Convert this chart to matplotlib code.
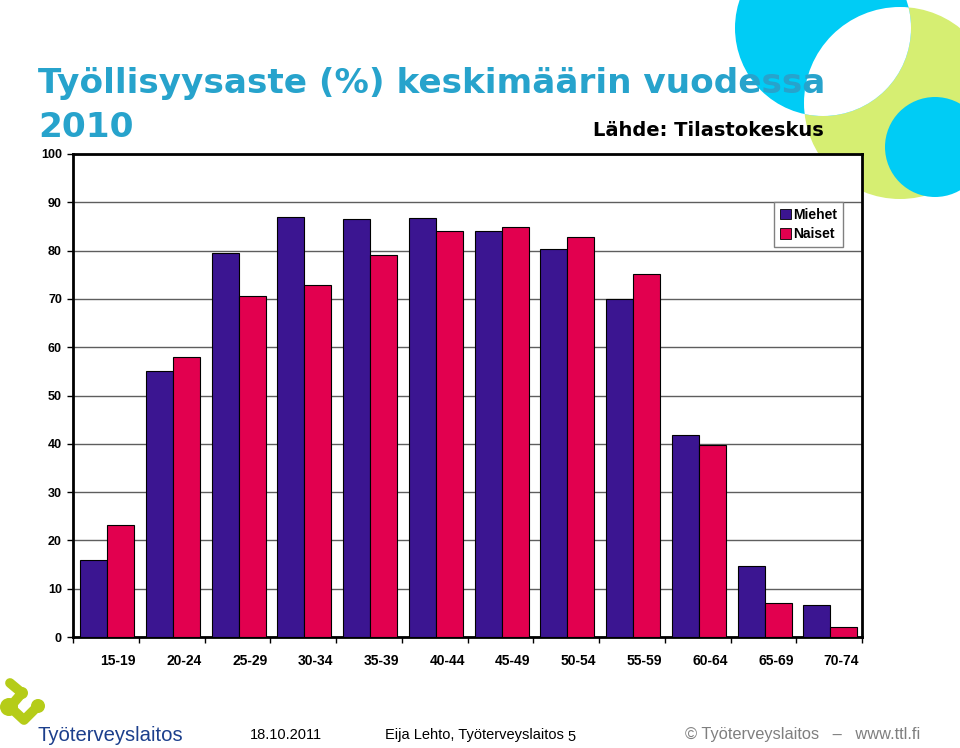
import numpy as np
import matplotlib
matplotlib.use('Agg')
import matplotlib.pyplot as plt
from matplotlib.patches import Circle, Patch

ages = ['15-19', '20-24', '25-29', '30-34', '35-39', '40-44',
        '45-49', '50-54', '55-59', '60-64', '65-69', '70-74']
miehet = [16.0, 55.0, 79.5, 86.9, 86.5, 86.7, 84.0, 80.3, 69.9, 41.9, 14.7, 6.6]
naiset = [23.2, 57.9, 70.7, 72.8, 79.0, 84.0, 84.9, 82.8, 75.1, 39.8, 7.1, 2.1]
yticks = [0, 10, 20, 30, 40, 50, 60, 70, 80, 90, 100]

c_men = '#3b1591'
c_women = '#e2004f'
c_title = '#27a3cc'
c_cyan = '#00ccf5'
c_green = '#d6ee72'
c_logo = '#b5cc18'

W, H = 960, 748
fig = plt.figure(figsize=(W / 100, H / 100), dpi=100)

# background layer in pixel coordinates (decoration, title, footer)
bg = fig.add_axes([0, 0, 1, 1], zorder=0)
bg.set_xlim(0, W)
bg.set_ylim(H, 0)
bg.axis('off')

green = Circle((900, 103), 96, color=c_green, lw=0)
bg.add_patch(green)
big = Circle((823, 28), 88, color=c_cyan, lw=0)
bg.add_patch(big)
lens = Circle((900, 103), 96, color='white', lw=0)
bg.add_patch(lens)
lens.set_clip_path(big)
bg.add_patch(Circle((935, 147), 50, color=c_cyan, lw=0))

bg.text(38, 93, 'Työllisyysaste (%) keskimäärin vuodessa', color=c_title,
        fontsize=24.7, fontweight='bold', family='DejaVu Sans', va='baseline')
bg.text(38, 137, '2010', color=c_title, fontsize=24.7, fontweight='bold',
        family='DejaVu Sans', va='baseline')
bg.text(593, 130, 'Lähde: Tilastokeskus', color='black', fontsize=14,
        fontweight='bold', family='DejaVu Sans', va='center')

# logo
bg.plot([10, 22, 10, 24, 38], [683, 693, 707, 720, 706], color=c_logo,
        lw=7, solid_capstyle='round', solid_joinstyle='round')
bg.add_patch(Circle((9, 707), 9, color=c_logo, lw=0))
bg.add_patch(Circle((38, 706), 7, color=c_logo, lw=0))
bg.add_patch(Circle((22, 693), 6, color=c_logo, lw=0))
bg.add_patch(Circle((10, 683), 3.5, color=c_logo, lw=0))
bg.text(37, 741, 'Työterveyslaitos', color='#1c3f8c', fontsize=14.6,
        family='Liberation Sans', va='baseline')

bg.text(250, 735, '18.10.2011', fontsize=10.5, family='Liberation Sans', va='center')
bg.text(385, 735, 'Eija Lehto, Työterveyslaitos', fontsize=10.5,
        family='Liberation Sans', va='center')
bg.text(567, 737, '5', fontsize=10.5, family='Liberation Sans', va='center')
bg.text(685, 735, '© Työterveyslaitos   –   www.ttl.fi', fontsize=11.8,
        color='#7f7f7f', family='Liberation Sans', va='center')

# chart
left, right, top, bottom = 73, 862, 154, 637
ax = fig.add_axes([left / W, 1 - bottom / H, (right - left) / W, (bottom - top) / H],
                  zorder=1)
x = np.arange(len(ages))
bw = 0.41
ax.bar(x - bw / 2 + 0.02, miehet, bw, color=c_men, edgecolor='black', lw=0.8,
       zorder=3)
ax.bar(x + bw / 2 + 0.02, naiset, bw, color=c_women, edgecolor='black', lw=0.8,
       zorder=3)

ax.set_xlim(-0.5, len(ages) - 0.5)
ax.set_ylim(0, 100)
ax.set_yticks(yticks)
ax.set_yticklabels([str(v) for v in yticks], fontweight='bold', fontsize=9,
                   family='Liberation Sans')
# labels sit a little right of the group centre, as in the original
ax.set_xticks(x + 0.19)
ax.set_xticklabels(ages, fontweight='bold', fontsize=10, family='Liberation Sans')
ax.set_xticks(np.arange(-0.5, len(ages) + 0.5, 1), minor=True)
ax.tick_params(axis='x', which='major', length=0, pad=12)
ax.tick_params(axis='x', which='minor', length=4, width=1, direction='out')
ax.tick_params(axis='y', length=4, width=1, direction='out', pad=4)
ax.grid(axis='y', color='#5e5e5e', lw=1, zorder=0)
for s in ax.spines.values():
    s.set_linewidth(2)
    s.set_color('black')

handles = [Patch(facecolor=c_men, edgecolor='black', lw=0.6, label='Miehet'),
           Patch(facecolor=c_women, edgecolor='black', lw=0.6, label='Naiset')]
leg = ax.legend(handles=handles, loc='upper right', bbox_to_anchor=(0.976, 0.9),
                prop={'weight': 'bold', 'size': 10, 'family': 'Liberation Sans'},
                fancybox=False, edgecolor='#808080', framealpha=1,
                handlelength=0.8, handleheight=0.8, handletextpad=0.2,
                borderpad=0.4, labelspacing=0.4, borderaxespad=0)
leg.get_frame().set_linewidth(1)

fig.savefig('out.png', dpi=100)
